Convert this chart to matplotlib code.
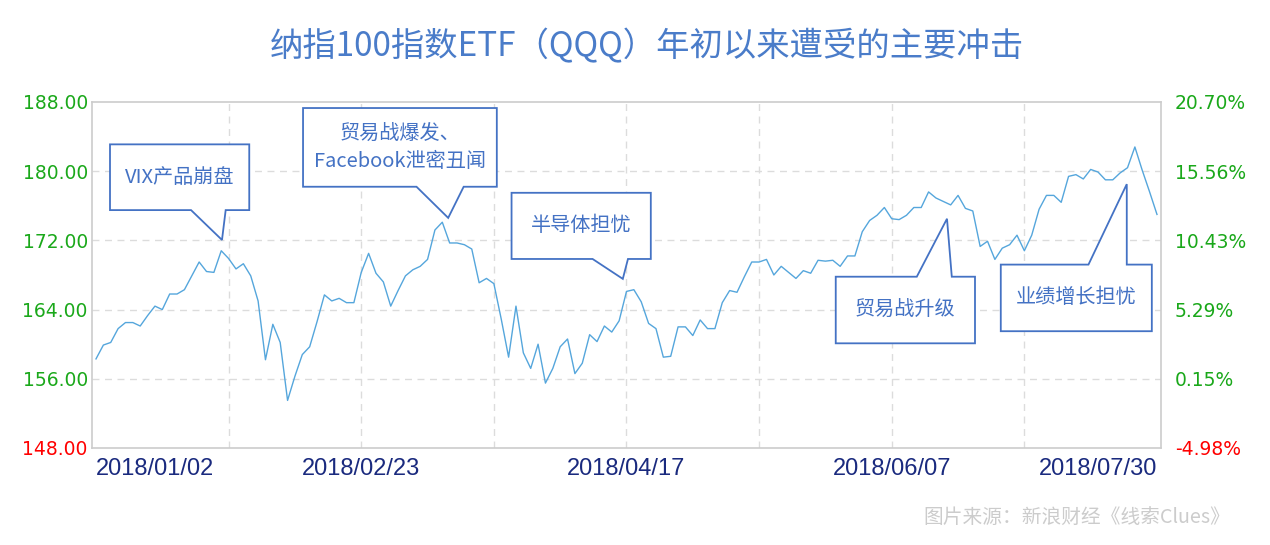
import matplotlib
matplotlib.use("Agg")
import matplotlib.pyplot as plt
from matplotlib.patches import Polygon
import numpy as np

plt.rcParams['font.family'] = ['Noto Sans CJK SC', 'DejaVu Sans']

# QQQ closing prices, one per trading day 2018/01/02 .. 2018/07/30
prices = [
    158.3, 159.9, 160.2, 161.8, 162.5, 162.5, 162.1, 163.3, 164.4, 164.0,
    165.8, 165.8, 166.3, 167.9, 169.5, 168.4, 168.3, 170.8, 169.9, 168.7,
    169.3, 167.9, 165.0, 158.2, 162.3, 160.2, 153.5, 156.3, 158.8, 159.7,
    162.6, 165.7, 165.0, 165.3, 164.8, 164.8, 168.3, 170.5, 168.2, 167.2,
    164.4, 166.2, 167.9, 168.6, 169.0, 169.8, 173.2, 174.1, 171.7, 171.7,
    171.5, 171.0, 167.1, 167.6, 167.0, 162.9, 158.5, 164.4, 159.0, 157.2,
    160.0, 155.5, 157.2, 159.7, 160.6, 156.6, 157.8, 161.1, 160.3, 162.1,
    161.4, 162.7, 166.1, 166.3, 164.9, 162.4, 161.8, 158.5, 158.6, 162.0,
    162.0, 161.0, 162.8, 161.8, 161.8, 164.8, 166.2, 166.0, 167.8, 169.5,
    169.5, 169.8, 168.0, 169.0, 168.3, 167.6, 168.5, 168.2, 169.7, 169.6,
    169.7, 169.0, 170.2, 170.2, 173.0, 174.3, 174.9, 175.8, 174.5, 174.4,
    174.9, 175.8, 175.8, 177.6, 176.9, 176.5, 176.1, 177.2, 175.7, 175.4,
    171.3, 171.9, 169.8, 171.1, 171.5, 172.6, 170.8, 172.6, 175.6, 177.2,
    177.2, 176.4, 179.4, 179.6, 179.1, 180.2, 179.9, 179.0, 179.0, 179.8,
    180.4, 182.8, 180.1, 177.6, 175.0,
]
date_ticks = [0, 36, 72, 108, 144]
date_labels = ["2018/01/02", "2018/02/23", "2018/04/17", "2018/06/07", "2018/07/30"]
price_ticks = [148, 156, 164, 172, 180, 188]
price_labels = ["148.00", "156.00", "164.00", "172.00", "180.00", "188.00"]
pct_labels = ["-4.98%", "0.15%", "5.29%", "10.43%", "15.56%", "20.70%"]

# callouts: text, box (x0, x1, y0, y1), pointer (base_a, tip, base_b), side the pointer leaves from
events = [
    ("VIX产品崩盘", (1.9, 20.8, 175.5, 183.1), ((12.9, 175.5), (17.1, 172.05), (17.6, 175.5)), "bottom"),
    ("贸易战爆发、\nFacebook泄密丑闻", (28.1, 54.4, 178.2, 187.3), ((43.5, 178.2), (47.8, 174.6), (49.9, 178.2)), "bottom"),
    ("半导体担忧", (56.4, 75.3, 169.85, 177.5), ((67.4, 169.85), (71.5, 167.55), (72.2, 169.85)), "bottom"),
    ("贸易战升级", (100.4, 119.3, 160.1, 167.8), ((111.4, 167.8), (115.5, 174.5), (116.15, 167.8)), "top"),
    ("业绩增长担忧", (122.8, 143.3, 161.5, 169.2), ((134.7, 169.2), (139.9, 178.5), (139.9, 169.2)), "top"),
]

BLUE = "#4472c4"
GREEN = "#1aa81a"
RED = "#ff0000"

fig = plt.figure(figsize=(12.7, 5.45), dpi=100)
ax = fig.add_axes([0.0724, 0.178, 0.8418, 0.6349])
x = np.arange(len(prices))
ax.plot(x, prices, color="#55a6dc", lw=1.0, zorder=3)

ax.set_xlim(-0.55, 144.55)
ax.set_ylim(148, 188)
ax.set_yticks(price_ticks)
ax.set_yticklabels(price_labels, fontsize=13.5, family="DejaVu Sans")
for t, v in zip(ax.get_yticklabels(), price_ticks):
    t.set_color(RED if v == 148 else GREEN)
ax.set_xticks(date_ticks)
ax.set_xticklabels(date_labels, fontsize=17, family="Liberation Sans", color="#1a2a7e")
labs = ax.get_xticklabels()
labs[0].set_ha("left")
labs[-1].set_ha("right")
ax.tick_params(length=0, pad=3)
ax.tick_params(axis="x", pad=7)

# grid: horizontal at price ticks, vertical every 18 trading days
for v in price_ticks[1:-1]:
    ax.axhline(v, color="#dcdcdc", lw=1, ls=(0, (5, 4)), zorder=1)
for g in range(18, 144, 18):
    ax.axvline(g, color="#dcdcdc", lw=1, ls=(0, (5, 4)), zorder=1)
for s in ax.spines.values():
    s.set_color("#cccccc")
    s.set_linewidth(1.2)

ax2 = ax.twinx()
ax2.set_ylim(148, 188)
ax2.set_yticks(price_ticks)
ax2.set_yticklabels(pct_labels, fontsize=13.5, family="DejaVu Sans")
for t, v in zip(ax2.get_yticklabels(), price_ticks):
    t.set_color(RED if v == 148 else GREEN)
ax2.tick_params(length=0, pad=10)
for s in ax2.spines.values():
    s.set_visible(False)

for text, (x0, x1, y0, y1), (pa, tip, pb), side in events:
    if side == "bottom":
        pts = [(x0, y1), (x1, y1), (x1, y0), pb, tip, pa, (x0, y0)]
    else:
        pts = [(x0, y1), pa, tip, pb, (x1, y1), (x1, y0), (x0, y0)]
    ax.add_patch(Polygon(pts, closed=True, facecolor="white", edgecolor=BLUE,
                         lw=1.3, zorder=5))
    ax.text((x0 + x1) / 2, (y0 + y1) / 2, text, ha="center", va="center",
            fontsize=14.5, color=BLUE, linespacing=1.4, zorder=6)

fig.text(0.509, 0.914, "纳指100指数ETF（QQQ）年初以来遭受的主要冲击", ha="center", va="center",
         fontsize=24, color="#4a7cc9")
fig.text(0.969, 0.051, "图片来源：新浪财经《线索Clues》", ha="right", va="center",
         fontsize=14.2, color="#cccccc")

fig.savefig("out.png", dpi=100)
